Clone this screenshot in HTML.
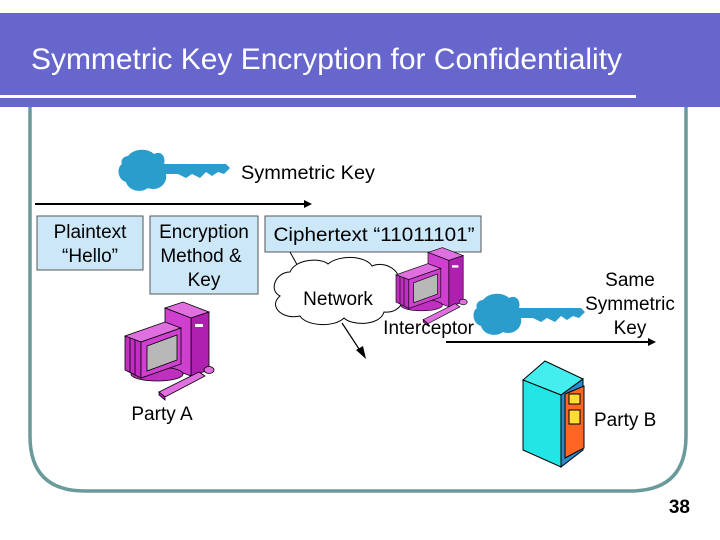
<!DOCTYPE html>
<html><head><meta charset="utf-8"><style>
html,body{margin:0;padding:0;background:#fff}
svg{display:block}
text{font-family:"Liberation Sans",Arial,sans-serif}
</style></head><body>
<svg width="720" height="540" viewBox="0 0 720 540" xmlns="http://www.w3.org/2000/svg">
<defs>
<g id="pc" stroke="#000" stroke-width="0.8">
  <polygon points="40,8 58,2 84,12 66,18" fill="#e070e0"/>
  <polygon points="66,18 84,12 84,70 66,76" fill="#b020b0"/>
  <polygon points="40,8 66,18 66,76 40,66" fill="#d040d0"/>
  <rect x="70" y="24" width="8" height="3" fill="#fff" stroke="none"/>
  <ellipse cx="32" cy="74" rx="26" ry="7" fill="#c030c0"/>
  <polygon points="0,36 40,22 56,28 16,42" fill="#e070e0"/>
  <polygon points="0,36 16,42 16,78 0,70" fill="#c030c0"/>
  <line x1="5" y1="38" x2="5" y2="72"/><line x1="10" y1="40" x2="10" y2="75"/>
  <polygon points="16,42 56,28 56,64 16,78" fill="#d040d0"/>
  <polygon points="22,46 52,35 52,60 22,71" fill="#b8b8b8"/>
  <polygon points="34,92 74,72 80,76 40,97" fill="#e070e0"/>
  <polygon points="34,92 40,97 40,100 34,95" fill="#b020b0"/>
  <ellipse cx="84" cy="70" rx="5" ry="3.5" fill="#e070e0"/>
</g>
<g id="key" fill="#2a9dcc">
  <path d="M10,8 C16,0 30,0 36,6 C44,2 48,10 46,16 L108,16 L112,20 L106,26 L100,24 L94,28 L88,24 L82,30 L74,26 L68,30 L60,26 L48,26 C50,36 40,44 30,40 C22,46 10,42 8,34 C0,32 -2,20 4,16 C2,12 6,8 10,8 Z"/>
</g>
</defs>
<rect x="0" y="13" width="720" height="94" fill="#6666cc"/>
<rect x="0" y="95" width="636" height="3" fill="#fff"/>
<text x="31" y="69" font-size="29.5" fill="#fff" textLength="591" lengthAdjust="spacingAndGlyphs">Symmetric Key Encryption for Confidentiality</text>
<path d="M30,107 L30,436 Q30,491 85,491 L630,491 Q686,491 686,436 L686,107" fill="none" stroke="#6b9a9a" stroke-width="3.5"/>
<text x="690" y="513" font-size="19" font-weight="bold" text-anchor="end" fill="#000">38</text>
<use href="#key" transform="translate(118,148)"/>
<text x="241" y="179" font-size="19" textLength="134" lengthAdjust="spacingAndGlyphs">Symmetric Key</text>
<line x1="35" y1="204" x2="306" y2="204" stroke="#000" stroke-width="2"/>
<polygon points="312,204 304,200 304,208" fill="#000"/>
<g font-size="19" text-anchor="middle">
<rect x="37" y="216" width="106" height="54" fill="#cce8f8" stroke="#555" stroke-width="1"/>
<text x="90" y="238">Plaintext</text>
<text x="90" y="262">“Hello”</text>
<rect x="150" y="216" width="108" height="78" fill="#cce8f8" stroke="#555" stroke-width="1"/>
<text x="204" y="238">Encryption</text>
<text x="201" y="262">Method &amp;</text>
<text x="204" y="286">Key</text>
<rect x="265" y="216" width="216" height="36" fill="#cce8f8" stroke="#555" stroke-width="1"/>
<text x="374" y="241" textLength="201" lengthAdjust="spacingAndGlyphs">Ciphertext “11011101”</text>
</g>
<line x1="290" y1="252" x2="300" y2="270" stroke="#000" stroke-width="1"/>
<path d="M290,272 C296,258 322,258 328,264 C340,254 366,256 372,266 C386,260 404,272 398,286 C410,294 402,314 384,312 C380,326 352,326 344,318 C334,328 306,326 300,316 C282,320 268,306 280,296 C268,290 276,272 290,272 Z" fill="#fff" stroke="#000" stroke-width="1"/>
<text x="338" y="305" font-size="19" text-anchor="middle">Network</text>
<line x1="342" y1="323" x2="361" y2="352" stroke="#000" stroke-width="1.2"/>
<polygon points="366,359 356,350 363,346" fill="#000"/>
<use href="#pc" transform="translate(396,246) scale(0.8)"/>
<text x="474" y="334" font-size="19" text-anchor="end">Interceptor</text>
<line x1="446" y1="342" x2="650" y2="342" stroke="#000" stroke-width="2"/>
<polygon points="656,342 648,338 648,346" fill="#000"/>
<use href="#key" transform="translate(473,292)"/>
<g font-size="19" text-anchor="middle">
<text x="630" y="286">Same</text>
<text x="630" y="310">Symmetric</text>
<text x="630" y="334">Key</text>
</g>
<use href="#pc" transform="translate(125,300)"/>
<text x="162" y="420" font-size="19" text-anchor="middle">Party A</text>
<g stroke="#000" stroke-width="1">
  <polygon points="523,380 545,361 583,379 561,395" fill="#44eeee"/>
  <polygon points="523,380 561,395 561,467 523,450" fill="#22e5e5"/>
  <polygon points="561,395 583,379 583,450 561,467" fill="#2a8acc"/>
  <polygon points="565,394 584,386 584,448 565,458" fill="#ff6622"/>
  <rect x="569" y="394" width="11" height="10" fill="#ffdd33"/>
  <rect x="569" y="410" width="11" height="14" fill="#ffdd33"/>
</g>
<text x="594" y="426" font-size="19">Party B</text>
</svg>
</body></html>
